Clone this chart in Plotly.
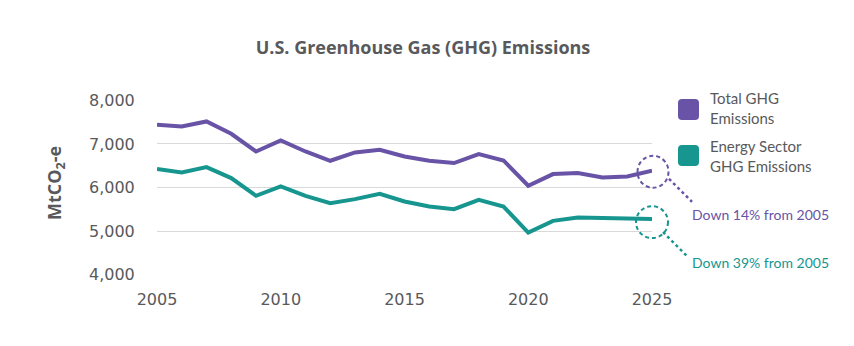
import plotly.graph_objects as go

# ---- data ----
years = list(range(2005, 2026))
total_ghg = [7441, 7402, 7517, 7234, 6828, 7080, 6828, 6614, 6805, 6867, 6713,
             6614, 6561, 6768, 6621, 6040, 6308, 6331, 6230, 6253, 6384]
energy_ghg = [6423, 6345, 6469, 6216, 5809, 6023, 5809, 5641, 5733, 5855, 5678,
              5563, 5503, 5717, 5563, 4966, 5234, 5310, 5297, 5287, 5274]
series_names = ["Total GHG<br>Emissions", "Energy Sector<br>GHG Emissions"]
notes = ["Down 14% from 2005", "Down 39% from 2005"]
x_ticks = [2005, 2010, 2015, 2020, 2025]
y_ticks = [4000, 5000, 6000, 7000, 8000]

PURPLE = "#6853a6"
TEAL = "#17958f"
GRAY = "#58595b"
FONT = "Lato"
NUMFONT = "DejaVu Sans"
TITLEFONT = "Open Sans"

W, H = 854, 346
ML, MR, MT, MB = 157, 202, 100, 71
PW, PH = W - ML - MR, H - MT - MB
XR = [2005, 2025]
YR = [3990, 8010]


def px(x):
    return (x - ML) / PW


def py(y):
    return (H - MB - y) / PH


def xdata_to_paper(v):
    return (v - XR[0]) / (XR[1] - XR[0])


def ydata_to_paper(v):
    return (v - YR[0]) / (YR[1] - YR[0])


def rounded(x0, y0, x1, y1, r):
    return (f"M {px(x0+r)},{py(y0)} L {px(x1-r)},{py(y0)} Q {px(x1)},{py(y0)} {px(x1)},{py(y0+r)} "
            f"L {px(x1)},{py(y1-r)} Q {px(x1)},{py(y1)} {px(x1-r)},{py(y1)} "
            f"L {px(x0+r)},{py(y1)} Q {px(x0)},{py(y1)} {px(x0)},{py(y1-r)} "
            f"L {px(x0)},{py(y0+r)} Q {px(x0)},{py(y0)} {px(x0+r)},{py(y0)} Z")


fig = go.Figure()
for vals, col, name in [(total_ghg, PURPLE, series_names[0]), (energy_ghg, TEAL, series_names[1])]:
    fig.add_trace(go.Scatter(x=years, y=vals, mode="lines", name=name,
                             line=dict(color=col, width=4), showlegend=False,
                             hoverinfo="skip", cliponaxis=False))

shapes = []
annotations = []

# legend (rounded squares + text)
legend_rows = [(99, 120, PURPLE, 108), (145, 166, TEAL, 156)]
for (y0, y1, col, ty), name in zip(legend_rows, series_names):
    shapes.append(dict(type="path", xref="paper", yref="paper",
                       path=rounded(678, y0, 699, y1, 4),
                       fillcolor=col, line=dict(width=0)))
    annotations.append(dict(xref="paper", yref="paper", x=px(708), y=py(ty),
                            xanchor="left", yanchor="middle", align="left",
                            text=name, showarrow=False,
                            font=dict(family=FONT, size=15, color=GRAY)))

# callouts at series end points
callouts = [
    (total_ghg, PURPLE, notes[0], (-14.5, -17, 16.5, 15), (17, -8, 40, -31), -44),
    (energy_ghg, TEAL, notes[1], (-16, -19, 16, 13), (11, -13, 35, -37), -43),
]
for vals, col, note, circ, lead, ysh in callouts:
    ax_ = xdata_to_paper(years[-1])
    ay_ = ydata_to_paper(vals[-1])
    shapes.append(dict(type="circle", xref="paper", yref="paper",
                       xsizemode="pixel", ysizemode="pixel",
                       xanchor=ax_, yanchor=ay_,
                       x0=circ[0], y0=circ[1], x1=circ[2], y1=circ[3],
                       line=dict(color=col, width=2, dash="4px,3px")))
    shapes.append(dict(type="line", xref="paper", yref="paper",
                       xsizemode="pixel", ysizemode="pixel",
                       xanchor=ax_, yanchor=ay_,
                       x0=lead[0], y0=lead[1], x1=lead[2], y1=lead[3],
                       line=dict(color=col, width=2.5, dash="3px,3px")))
    annotations.append(dict(xref="x", yref="y", x=years[-1], y=vals[-1],
                            xanchor="left", yanchor="middle", xshift=38, yshift=ysh,
                            text=note, showarrow=False,
                            font=dict(family=FONT, size=14, color=col)))

# y axis title
annotations.append(dict(xref="paper", yref="paper", x=px(55), y=py(183),
                        xanchor="center", yanchor="middle", textangle=-90,
                        text="<b>MtCO<sub>2</sub>-e</b>", showarrow=False,
                        font=dict(family=TITLEFONT, size=18, color=GRAY)))

fig.update_layout(
    width=W, height=H,
    margin=dict(l=ML, r=MR, t=MT, b=MB, pad=0),
    paper_bgcolor="white", plot_bgcolor="white",
    title=dict(text="<b>U.S. Greenhouse Gas (GHG) Emissions</b>",
               x=423 / W, y=1 - 48 / H, xanchor="center", yanchor="middle",
               font=dict(family=TITLEFONT, size=18, color=GRAY)),
    font=dict(family=FONT, color=GRAY),
    xaxis=dict(range=XR, tickvals=x_ticks, ticktext=[str(t) for t in x_ticks],
               showgrid=False, zeroline=False, showline=False,
               ticks="outside", ticklen=10, tickcolor="rgba(0,0,0,0)",
               tickfont=dict(family=NUMFONT, size=16, color=GRAY)),
    yaxis=dict(range=YR, tickvals=y_ticks,
               ticktext=[f"{t:,}" for t in y_ticks],
               showgrid=True, gridcolor="#d9d9d9", gridwidth=1,
               zeroline=False, showline=False,
               ticks="outside", ticklen=18, tickcolor="rgba(0,0,0,0)",
               tickfont=dict(family=NUMFONT, size=16, color=GRAY)),
    shapes=shapes, annotations=annotations,
    hovermode=False,
)

fig.write_html("out.html")
